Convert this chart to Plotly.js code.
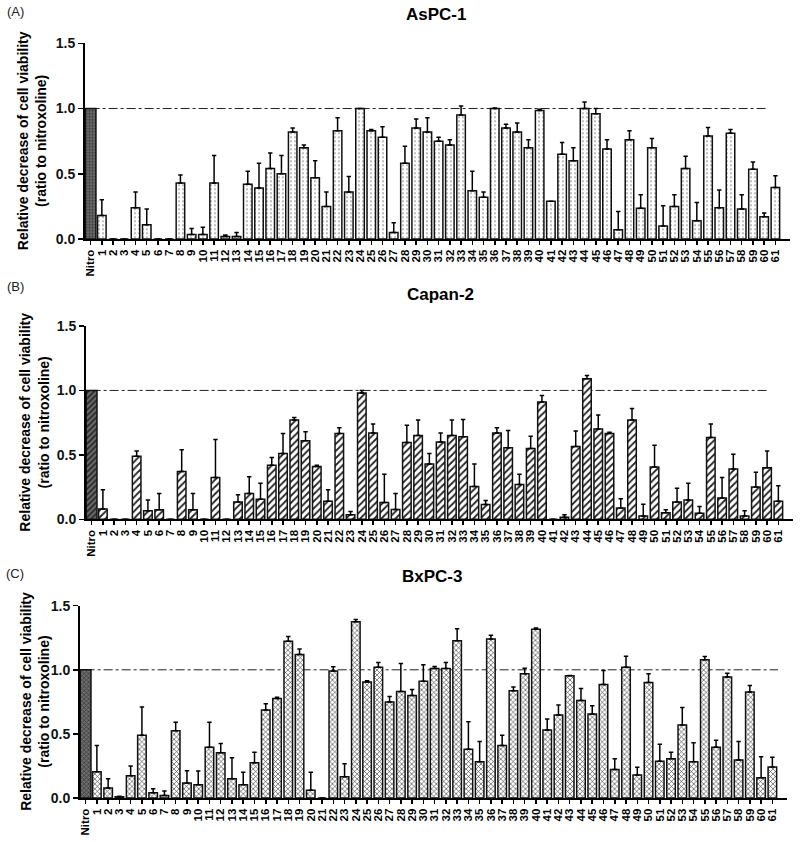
<!DOCTYPE html>
<html><head><meta charset="utf-8">
<script src="https://cdn.plot.ly/plotly-3.0.1.min.js"></script>
<style>html,body{margin:0;padding:0;background:#fff}#chart{width:800px;height:842px}</style>
</head><body><div id="chart"></div>
<script>
const categories = ["Nitro","1","2","3","4","5","6","7","8","9","10","11","12","13","14","15","16","17","18","19","20",
"21","22","23","24","25","26","27","28","29","30","31","32","33","34","35","36","37","38","39","40",
"41","42","43","44","45","46","47","48","49","50","51","52","53","54","55","56","57","58","59","60","61"];

const panelTitles = ["AsPC-1", "Capan-2", "BxPC-3"];
const panelLetters = ["(A)", "(B)", "(C)"];
const nitroValue = 1.0;

// compounds 1..61
const aspc1 = [0.18,0,0,0.24,0.11,0,0,0.43,0.035,0.035,0.43,0.02,0.02,0.42,0.39,0.54,0.50,0.82,0.70,0.47,
0.25,0.83,0.36,1.0,0.83,0.78,0.05,0.58,0.85,0.82,0.75,0.72,0.95,0.37,0.32,1.0,0.85,0.82,0.70,0.985,
0.29,0.65,0.60,1.0,0.96,0.69,0.07,0.76,0.235,0.70,0.10,0.25,0.54,0.14,0.79,0.24,0.81,0.23,0.535,0.17,0.395];
const aspc1Sd = [0.12,0,0,0.12,0.12,0,0,0.06,0.045,0.055,0.21,0.01,0.03,0.10,0.19,0.12,0.14,0.03,0.02,0.13,
0.11,0.10,0.12,0,0.01,0.08,0.075,0.13,0.07,0.11,0.03,0.04,0.07,0.15,0.04,0.005,0.03,0.07,0.06,0.01,
0,0.09,0.10,0.05,0.04,0.07,0.14,0.07,0.105,0.07,0.155,0.09,0.095,0.14,0.065,0.135,0.03,0.11,0.055,0.03,0.09];

const capan2 = [0.08,0,0,0.49,0.067,0.075,0,0.37,0.075,0,0.325,0,0.135,0.20,0.155,0.42,0.51,0.77,0.61,0.41,
0.14,0.665,0.035,0.98,0.67,0.13,0.077,0.595,0.65,0.43,0.60,0.65,0.64,0.255,0.115,0.67,0.555,0.27,0.55,0.91,
0,0.015,0.565,1.09,0.70,0.665,0.088,0.77,0.026,0.405,0.05,0.135,0.15,0.046,0.635,0.165,0.39,0.026,0.25,0.40,0.14];
const capan2Sd = [0.15,0,0,0.04,0.083,0.125,0,0.17,0.125,0,0.295,0,0.055,0.13,0.125,0.06,0.155,0.02,0.07,0.01,
0.09,0.045,0.025,0.02,0.07,0.22,0.123,0.135,0.12,0.08,0.07,0.12,0.135,0.175,0.03,0.04,0.135,0.08,0.095,0.05,
0,0.02,0.12,0.025,0.11,0.01,0.072,0.09,0.09,0.17,0.025,0.105,0.13,0.054,0.105,0.16,0.115,0.04,0.115,0.13,0.12];

const bxpc3 = [0.205,0.078,0.01,0.174,0.49,0.04,0.02,0.525,0.117,0.104,0.395,0.353,0.15,0.104,0.275,0.686,0.777,1.223,1.12,0.06,
0,0.99,0.166,1.374,0.904,1.02,0.748,0.83,0.80,0.91,1.01,1.01,1.226,0.38,0.283,1.24,0.41,0.836,0.97,1.317,
0.53,0.647,0.953,0.76,0.655,0.886,0.223,1.02,0.18,0.90,0.286,0.306,0.57,0.283,1.078,0.395,0.943,0.296,0.826,0.158,0.242];
const bxpc3Sd = [0.205,0.072,0.003,0.076,0.22,0.033,0.035,0.065,0.096,0.106,0.195,0.073,0.164,0.096,0.081,0.049,0.008,0.037,0.043,0.14,
0,0.033,0.102,0.018,0.01,0.037,0.044,0.22,0.047,0.13,0.015,0.047,0.094,0.215,0.157,0.03,0.08,0.029,0.043,0.01,
0.086,0.078,0.003,0.095,0.065,0.109,0.083,0.086,0.06,0.07,0.134,0.05,0.136,0.147,0.026,0.055,0.031,0.144,0.052,0.164,0.075];

const yTickVals = [0, 0.5, 1.0, 1.5];
const yTickText = ["0.0", "0.5", "1.0", "1.5"];
const yTitle = "Relative decrease of cell viability<br>(ratio to nitroxoline)";

const FONT = "Liberation Sans, Arial, sans-serif";
const H = 842, W = 800;
const py = p => 1 - p / H;
const px = p => p / W;

const panels = [
  {vals: aspc1, sd: aspc1Sd, ydom: [py(239), py(43.3)], xdom: [px(85), px(790)], lineEnd: 60.3,
   pat: {shape: '.', fgcolor: '#555', bgcolor: '#ffffff', size: 4, solidity: 0.1},
   npat: {shape: '.', fgcolor: '#333', bgcolor: '#6e6e6e', size: 3, solidity: 0.4},
   titleY: 15, titleX: 436, letterY: 11, ytX: 32},
  {vals: capan2, sd: capan2Sd, ydom: [py(519.3), py(326)], xdom: [px(86), px(793)], lineEnd: 60.2,
   pat: {shape: '/', fgcolor: '#222', bgcolor: '#ffffff', size: 5, solidity: 0.35},
   npat: {shape: '/', fgcolor: '#222', bgcolor: '#6a6a6a', size: 4, solidity: 0.4},
   titleY: 295, titleX: 440, letterY: 286, ytX: 34},
  {vals: bxpc3, sd: bxpc3Sd, ydom: [py(798), py(605.7)], xdom: [px(80), px(787)], lineEnd: 61.5,
   pat: {shape: 'x', fgcolor: '#3a3a3a', bgcolor: '#ffffff', size: 3.5, solidity: 0.33},
   npat: {shape: 'x', fgcolor: '#333', bgcolor: '#6e6e6e', size: 3, solidity: 0.4},
   titleY: 576, titleX: 432, letterY: 573, ytX: 35}
];

const idx = categories.map((c, i) => i);
const compIdx = idx.slice(1);

const data = [];
const layout = {
  width: W, height: H, autosize: false,
  margin: {l: 0, r: 0, t: 0, b: 0, pad: 0},
  paper_bgcolor: '#fff', plot_bgcolor: 'rgba(0,0,0,0)',
  showlegend: false, barmode: 'overlay',
  font: {family: FONT, color: '#000'},
  shapes: [], annotations: []
};

panels.forEach((p, k) => {
  const n = k === 0 ? '' : String(k + 1);
  const xa = 'x' + n, ya = 'y' + n;
  // no error bar drawn where the bar itself is zero
  const errPlus = p.sd.map((s, i) => (p.vals[i] === 0 ? NaN : s));
  data.push({
    type: 'bar', x: [0], y: [nitroValue], width: 0.95, xaxis: xa, yaxis: ya,
    marker: {color: p.npat.bgcolor, pattern: p.npat, line: {color: '#111', width: 1.5}},
    hoverinfo: 'skip'
  });
  data.push({
    type: 'bar', x: compIdx, y: p.vals, width: 0.76, xaxis: xa, yaxis: ya,
    marker: {color: '#ffffff', pattern: p.pat, line: {color: '#111', width: 1.5}},
    error_y: {type: 'data', symmetric: false, array: errPlus, arrayminus: p.sd.map(() => 0),
              color: '#000', thickness: 1.5, width: 2.2},
    hoverinfo: 'skip'
  });
  layout['xaxis' + n] = {
    domain: p.xdom, range: [-0.5, 62.3], anchor: ya,
    tickmode: 'array', tickvals: idx, ticktext: categories, tickangle: -90,
    ticks: 'outside', ticklen: 4, tickwidth: 1.5, tickcolor: '#000',
    showline: true, linewidth: 2, linecolor: '#000', showgrid: false, zeroline: false,
    tickfont: {family: FONT, size: 11.5, weight: 'bold', color: '#000'}, automargin: false
  };
  layout['yaxis' + n] = {
    domain: p.ydom, range: [0, 1.5], anchor: xa,
    tickmode: 'array', tickvals: yTickVals, ticktext: yTickText,
    ticks: 'outside', ticklen: 5, tickwidth: 1.5, tickcolor: '#000',
    showline: true, linewidth: 2, linecolor: '#000', showgrid: false, zeroline: false,
    tickfont: {family: FONT, size: 14, weight: 'bold', color: '#111'}, automargin: false
  };
  layout.shapes.push({type: 'line', xref: xa, yref: ya, x0: 0, x1: p.lineEnd, y0: 1, y1: 1,
    line: {dash: 'dashdot', width: 1, color: '#222'}, layer: 'below'});
  layout.annotations.push({xref: 'paper', yref: 'paper', x: px(p.titleX), y: py(p.titleY),
    text: '<b>' + panelTitles[k] + '</b>', showarrow: false, xanchor: 'center', yanchor: 'middle',
    font: {family: FONT, size: 17, color: '#000'}});
  layout.annotations.push({xref: 'paper', yref: 'paper', x: px(15), y: py(p.letterY),
    text: panelLetters[k], showarrow: false, xanchor: 'center', yanchor: 'middle',
    font: {family: FONT, size: 13, color: '#222'}});
  layout.annotations.push({xref: 'paper', yref: 'paper', x: px(p.ytX), y: (p.ydom[0] + p.ydom[1]) / 2,
    text: '<b>' + yTitle + '</b>', showarrow: false, xanchor: 'center', yanchor: 'middle',
    textangle: -90, font: {family: FONT, size: 14, color: '#000'}});
});

Plotly.newPlot('chart', data, layout, {staticPlot: true, displayModeBar: false});
</script>
</body></html>
